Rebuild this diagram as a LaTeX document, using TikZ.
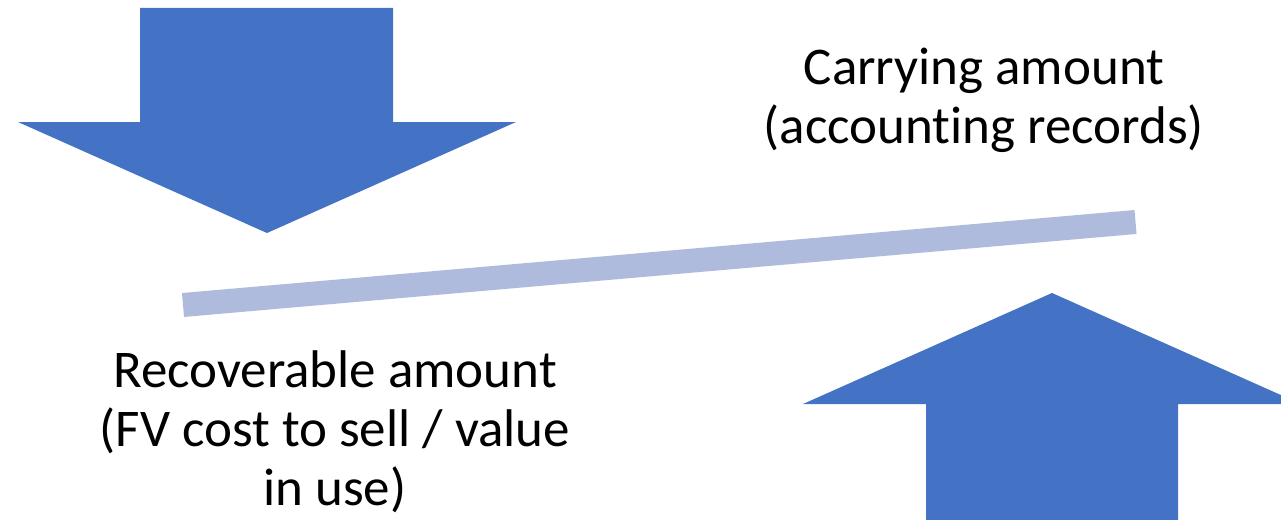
\documentclass[tikz,border=0pt]{standalone}
\usepackage{fontspec}
\setmainfont{Carlito}[Ligatures={NoCommon,NoContextual}]
\definecolor{arrowblue}{HTML}{4472C4}
\definecolor{barblue}{HTML}{AFBBDD}
\begin{document}
\begin{tikzpicture}[x=1pt,y=-1pt,
  bigarrow/.style={fill=arrowblue,draw=none},
  txt/.style={font=\fontsize{53}{59}\selectfont,inner sep=0pt,anchor=base,text=black},
  balance/.style={draw=barblue,line width=24pt,line cap=butt}]
\useasboundingbox (0,0) rectangle (1281,519);
\clip (0,0) rectangle (1281,519);
% down arrow
\fill[bigarrow] (140,8) -- (393,8) -- (393,122) -- (516,122) -- (267,233) -- (18,122) -- (140,122) -- cycle;
% up arrow
\fill[bigarrow] (1052,293) -- (1301,404) -- (1178,404) -- (1178,525) -- (926,525) -- (926,404) -- (803,404) -- cycle;
% balance bar
\coordinate (barL) at (183,305);
\coordinate (barR) at (1135.5,222);
\draw[balance] (barL) -- (barR);
% texts
\node[txt] (carry1) at (984,84) {Carrying amount};
\node[txt] (carry2) at (984,143) {(accounting records)};
\node[txt] (rec1) at (335,387) {Recoverable amount};
\node[txt] (rec2) at (335,446) {(FV cost to sell / value};
\node[txt] (rec3) at (335,505) {in use)};
\end{tikzpicture}
\end{document}
